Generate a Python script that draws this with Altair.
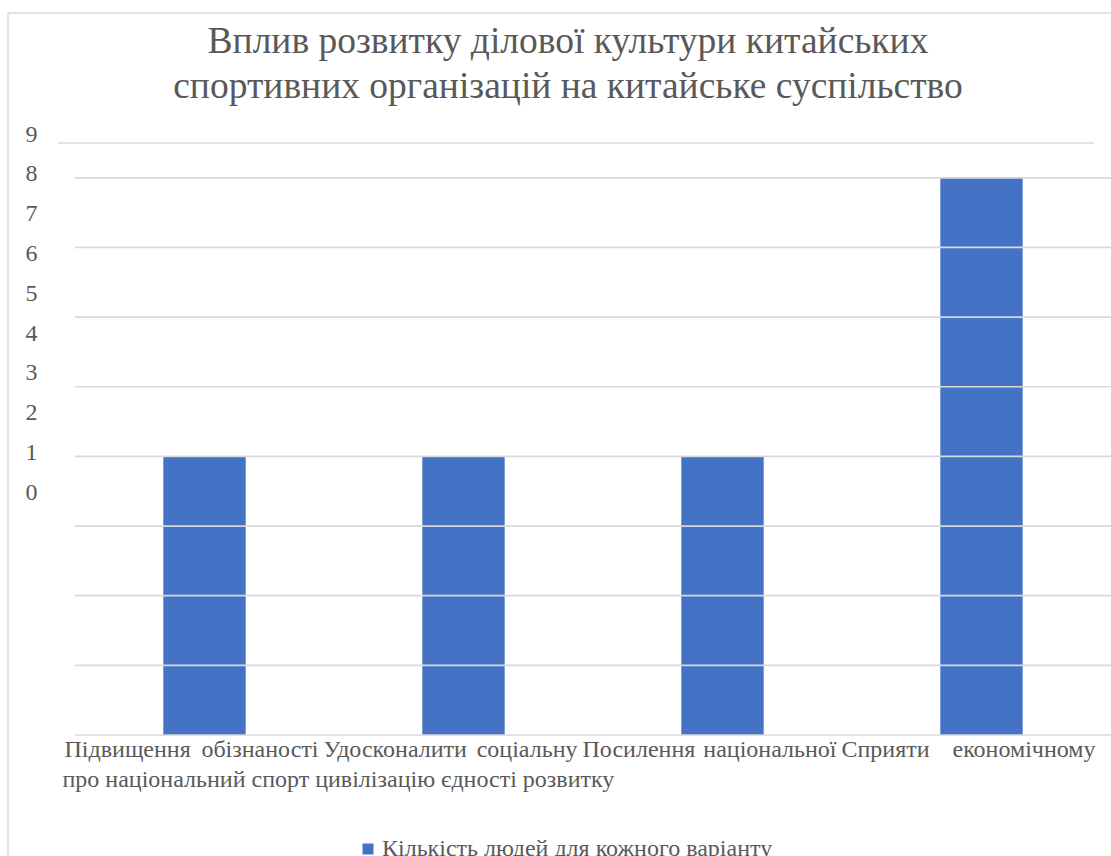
import altair as alt
import pandas as pd

# ---- data -------------------------------------------------------------
title_lines = [
    "Вплив розвитку ділової культури китайських",
    "спортивних організацій на китайське суспільство",
]
categories = [
    "Підвищення обізнаності про національний спорт",
    "Удосконалити соціальну цивілізацію",
    "Посилення національної єдності",
    "Сприяти економічному розвитку",
]
counts = [1, 1, 1, 8]
series_name = "Кількість людей для кожного варіанту"
y_labels = [0, 1, 2, 3, 4, 5, 6, 7, 8, 9]

# value axis: the bars hang from the bottom of the frame
y_domain = [-6, 9]
grid_lines = [-6, -4.25, -2.5, -0.75, 1, 2.75, 4.5, 6.25, 8]
top_line = [8.875]

# ---- style ------------------------------------------------------------
W, H = 1036, 597
FONT = "Liberation Serif"
TEXT = "#595959"
GRID = "#d9d9d9"
BAR = "#4472C4"
LABEL_SIZE = 24

bars_df = pd.DataFrame({"category": categories, "count": counts, "series": series_name})
parts = [c.split(" ", 2) for c in categories]
words_df = pd.DataFrame({
    "category": categories,
    "first": [p[0] for p in parts],
    "second": [p[1] for p in parts],
})
line2_df = pd.DataFrame({
    "category": [categories[0]],
    "text": [" ".join(p[2] for p in parts)],
})
one_row = pd.DataFrame({"k": [0]})

x_enc = alt.X(
    "category:N",
    sort=categories,
    axis=None,
    scale=alt.Scale(paddingInner=0.682, paddingOuter=0.341),
)
y_scale = alt.Scale(domain=y_domain, nice=False, zero=False)

frame = alt.Chart(one_row).mark_rect(
    fillOpacity=0, stroke=GRID, strokeWidth=1.3
).encode(
    x=alt.value(-67), x2=alt.value(W + 60),
    y=alt.value(-125), y2=alt.value(H + 200),
)

bars = alt.Chart(bars_df).mark_bar().encode(
    x=x_enc,
    y=alt.Y(
        "count:Q",
        scale=y_scale,
        title=None,
        axis=alt.Axis(
            values=y_labels, grid=False, domain=False, ticks=False,
            labelPadding=38, labelFontSize=LABEL_SIZE, labelColor=TEXT,
            labelFont=FONT, labelOffset=-4, labelBaseline="middle",
        ),
    ),
    y2=alt.datum(y_domain[0]),
    color=alt.Color(
        "series:N",
        scale=alt.Scale(range=[BAR]),
        legend=alt.Legend(
            title=None, orient="none", legendX=281, legendY=699,
            symbolType="square", symbolSize=121, symbolStrokeWidth=0,
            labelFontSize=LABEL_SIZE, labelColor=TEXT, labelFont=FONT,
            labelOffset=2, labelLimit=0, padding=0,
        ),
    ),
)

grid = alt.Chart(pd.DataFrame({"g": grid_lines})).mark_rule(
    color=GRID, strokeWidth=1.7
).encode(y=alt.Y("g:Q", scale=y_scale, title=None))

# the uppermost line sits a little to the left of the others
grid_top = alt.Chart(pd.DataFrame({"g": top_line})).mark_rule(
    color=GRID, strokeWidth=1.7
).encode(
    y=alt.Y("g:Q", scale=y_scale, title=None),
    x=alt.value(-17), x2=alt.value(W - 17),
)

first_words = alt.Chart(words_df).mark_text(
    align="left", dx=-140, dy=22, fontSize=LABEL_SIZE, color=TEXT,
    font=FONT, baseline="alphabetic",
).encode(x=x_enc, y=alt.datum(y_domain[0]), text="first:N")

second_words = alt.Chart(words_df).mark_text(
    align="right", dx=114, dy=22, fontSize=LABEL_SIZE, color=TEXT,
    font=FONT, baseline="alphabetic",
).encode(x=x_enc, y=alt.datum(y_domain[0]), text="second:N")

second_line = alt.Chart(line2_df).mark_text(
    align="left", dx=-142, dy=52, fontSize=LABEL_SIZE, color=TEXT,
    font=FONT, baseline="alphabetic",
).encode(x=x_enc, y=alt.datum(y_domain[0]), text="text:N")

title = alt.Chart(one_row).mark_text(
    text=title_lines, fontSize=37.5, lineHeight=45, color=TEXT, font=FONT,
    align="center", baseline="alphabetic",
).encode(x=alt.value(W / 2 - 25), y=alt.value(-85))

chart = alt.layer(
    frame, bars, grid, grid_top, first_words, second_words, second_line, title
).properties(
    width=W,
    height=H,
    autosize=alt.AutoSizeParams(type="none"),
    padding={"left": 75, "top": 138, "right": 0, "bottom": 856 - 138 - H},
    background="white",
).configure(font=FONT).configure_view(stroke=None)

chart.save("out.html", embed_options={"renderer": "svg", "actions": False})
